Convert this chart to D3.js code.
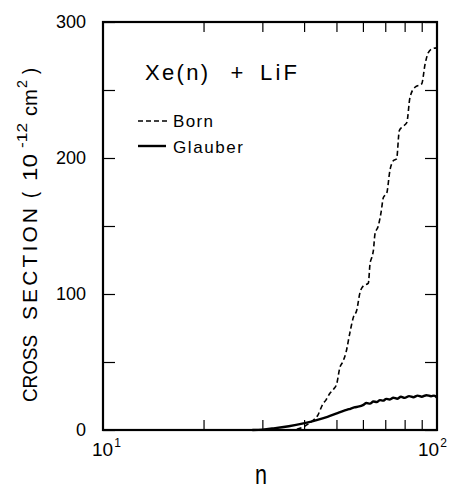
<!DOCTYPE html>
<html>
<head>
<meta charset="utf-8">
<script src="https://cdn.jsdelivr.net/npm/d3@7"></script>
<style>
  html, body { margin: 0; padding: 0; background: #fff; }
  svg { display: block; }
  text { font-family: "Liberation Sans", Arial, sans-serif; fill: #000; }
</style>
</head>
<body>
<svg id="chart" width="451" height="489"></svg>
<script>
// ---- data ----
const bornN = [36, 38, 40, 42, 44, 45.5, 46.5, 47.8, 49, 50.1, 51.2, 52.2, 53.4, 54.9, 56.2, 57.5, 58.8, 60.2, 62.3, 63, 63.8, 64.5, 65.2, 66.7, 68, 69.1, 70.7, 72.3, 74, 75.7, 77.1, 78.4, 81.2, 83, 85.9, 90, 92.1, 94.2, 97, 100];
const bornV = [0, 0.5, 2.5, 6, 11, 19, 22, 27, 30, 34, 46, 50, 57, 72, 83, 88, 101, 106, 108, 122, 127, 132, 144, 150, 160, 171, 174, 191, 198, 199.5, 220, 222.5, 226, 244.5, 252, 254.5, 269, 277.5, 280.5, 281];

const glauberN = [28, 30, 32.4, 36, 39.8, 43.6, 47, 50.1, 52.5, 54.5, 56.5, 58.5, 60, 61.5, 63, 64.5, 66, 67.5, 69, 70.5, 72, 74, 76, 78, 80, 82.5, 85, 87.5, 90, 93, 96, 98, 100];
const glauberV = [0, 0.3, 1.2, 2.8, 4.9, 7.3, 9.7, 12.2, 14, 15.3, 16.6, 17.3, 18.3, 19.8, 19.4, 21.0, 20.6, 22.0, 21.6, 22.9, 22.4, 23.7, 23.0, 24.4, 23.6, 24.9, 24.1, 25.3, 24.5, 25.6, 24.8, 25.3, 23.8];

const xMinorTicks = [20, 30, 40, 50, 60, 70, 80, 90];
const yTicks = [0, 50, 100, 150, 200, 250, 300];
const yTickLabels = [0, 100, 200, 300];
const xTickLabels = [{v: 10, base: "10", exp: "1"}, {v: 100, base: "10", exp: "2"}];
const seriesNames = ["Born", "Glauber"];

// ---- layout ----
const svg = d3.select("#chart");
const L = 103, R = 437, T = 22, B = 430;
const x = d3.scaleLog().domain([10, 100]).range([L, R]);
const y = d3.scaleLinear().domain([0, 300]).range([B, T]);

// axes (ticks inside)
svg.append("g").attr("transform", `translate(0,${B})`)
  .call(d3.axisBottom(x).tickValues(xMinorTicks).tickSize(-10).tickFormat(""))
  .call(g => g.select(".domain").remove());
svg.append("g").attr("transform", `translate(0,${T})`)
  .call(d3.axisTop(x).tickValues(xMinorTicks).tickSize(-10).tickFormat(""))
  .call(g => g.select(".domain").remove());
svg.append("g").attr("transform", `translate(${L},0)`)
  .call(d3.axisLeft(y).tickValues(yTicks).tickSize(-12).tickPadding(17)
        .tickFormat(d => yTickLabels.includes(d) ? d : ""))
  .call(g => g.select(".domain").remove())
  .call(g => g.selectAll("text").attr("font-size", 18).attr("font-family", "Liberation Sans, Arial, sans-serif"));
svg.append("g").attr("transform", `translate(${R},0)`)
  .call(d3.axisRight(y).tickValues(yTicks).tickSize(-12).tickFormat(""))
  .call(g => g.select(".domain").remove());
svg.selectAll(".tick line").attr("stroke", "#000").attr("stroke-width", 1.2);

// frame
svg.append("rect").attr("x", L).attr("y", T).attr("width", R - L).attr("height", B - T)
  .attr("fill", "none").attr("stroke", "#000").attr("stroke-width", 2.2);

// x tick labels 10^1, 10^2
const xlab = svg.append("g");
xTickLabels.forEach((t, i) => {
  const dx = i === 0 ? -11 : -19;
  const tx = xlab.append("text").attr("x", x(t.v) + dx).attr("y", 456).attr("font-size", 19);
  tx.append("tspan").text(t.base);
  tx.append("tspan").attr("font-size", 12).attr("dy", -9).attr("dx", 1).text(t.exp);
});

// x axis title
svg.append("text").attr("x", 255).attr("y", 484).attr("font-size", 27)
  .attr("textLength", 12).attr("lengthAdjust", "spacingAndGlyphs").text("n");

// y axis title, laid out piece by piece (screen y start, length, superscript?)
const ytPieces = [
  {t: "CROSS", y0: 402, len: 67, sup: false, adj: "spacingAndGlyphs"},
  {t: "SECTION", y0: 320, len: 112, sup: false, adj: "spacing"},
  {t: "(", y0: 198, len: 6, sup: false, adj: "spacingAndGlyphs"},
  {t: "10", y0: 181, len: 27, sup: false, adj: "spacingAndGlyphs"},
  {t: "-12", y0: 148, len: 25, sup: true, adj: "spacingAndGlyphs"},
  {t: "cm", y0: 116, len: 27, sup: false, adj: "spacingAndGlyphs"},
  {t: "2", y0: 88, len: 8, sup: true, adj: "spacingAndGlyphs"},
  {t: ")", y0: 74, len: 6, sup: false, adj: "spacingAndGlyphs"}
];
const ytg = svg.append("g").attr("transform", "translate(37,0) rotate(-90)");
ytPieces.forEach(p => {
  ytg.append("text").attr("x", -p.y0).attr("y", p.sup ? -10 : 0)
    .attr("font-size", p.sup ? 14 : 21)
    .attr("textLength", p.len).attr("lengthAdjust", p.adj).text(p.t);
});

// curves
const line = d3.line().x(d => x(d[0])).y(d => y(d[1])).curve(d3.curveMonotoneX);
const born = bornN.map((n, i) => [n, bornV[i]]);
const glauber = glauberN.map((n, i) => [n, glauberV[i]]);
svg.append("path").datum(born).attr("d", line).attr("fill", "none")
  .attr("stroke", "#000").attr("stroke-width", 1.6).attr("stroke-dasharray", "5,3");
svg.append("path").datum(glauber).attr("d", line).attr("fill", "none")
  .attr("stroke", "#000").attr("stroke-width", 2.4);

// annotation
svg.append("text").attr("x", 145).attr("y", 80).attr("font-size", 22)
  .attr("textLength", 63).attr("lengthAdjust", "spacing").text("Xe(n)");
svg.append("text").attr("x", 237).attr("y", 80).attr("font-size", 22).attr("text-anchor", "middle").text("+");
svg.append("text").attr("x", 260).attr("y", 80).attr("font-size", 22)
  .attr("textLength", 37).attr("lengthAdjust", "spacing").text("LiF");

// legend
const lg = svg.append("g");
lg.append("line").attr("x1", 138).attr("x2", 167).attr("y1", 121).attr("y2", 121)
  .attr("stroke", "#000").attr("stroke-width", 1.6).attr("stroke-dasharray", "5,3");
lg.append("text").attr("x", 173).attr("y", 127).attr("font-size", 17)
  .attr("textLength", 40).attr("lengthAdjust", "spacing").text(seriesNames[0]);
lg.append("line").attr("x1", 138).attr("x2", 166).attr("y1", 146).attr("y2", 146)
  .attr("stroke", "#000").attr("stroke-width", 2.4);
lg.append("text").attr("x", 173).attr("y", 153).attr("font-size", 17)
  .attr("textLength", 70).attr("lengthAdjust", "spacing").text(seriesNames[1]);
</script>
</body>
</html>
